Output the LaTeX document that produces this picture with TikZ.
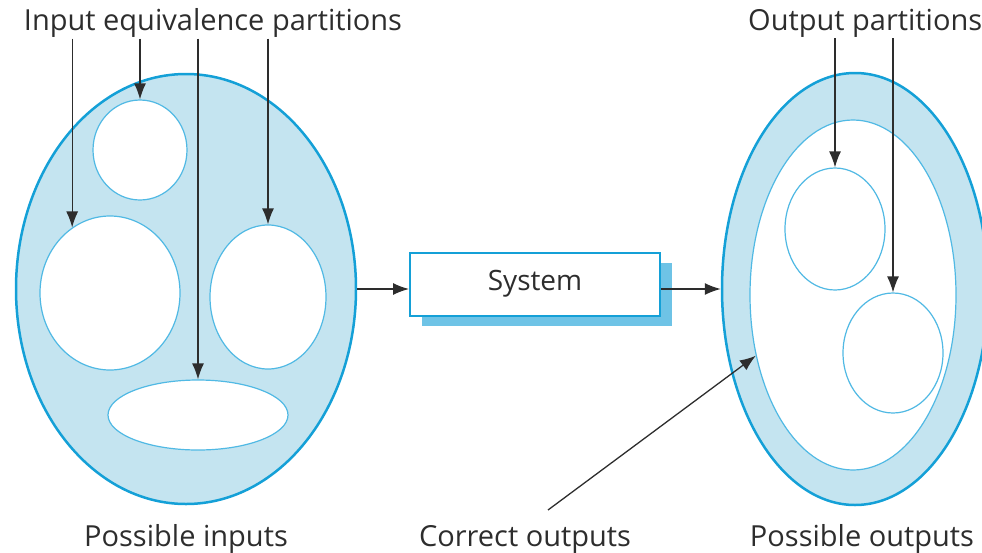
\documentclass[tikz,border=0pt]{standalone}
\usepackage{fontspec}
\setmainfont{Open Sans}
\usetikzlibrary{positioning}
\usetikzlibrary{shapes.geometric}
\usetikzlibrary{arrows.meta}
\usetikzlibrary{shadows}

\definecolor{rimblue}{RGB}{20,160,215}
\definecolor{thinblue}{RGB}{80,185,228}
\definecolor{paleblue}{RGB}{196,228,240}
\definecolor{shadeblue}{RGB}{110,195,230}
\definecolor{inkgray}{RGB}{45,45,45}

\tikzset{
  spacering/.style={ellipse, draw=rimblue, line width=2.5pt, fill=paleblue, inner sep=0},
  part/.style={ellipse, draw=thinblue, line width=1.2pt, fill=white, inner sep=0},
  lbl/.style={text=inkgray, font=\fontsize{29}{33}\selectfont, inner sep=1pt},
  arr/.style={draw=inkgray, line width=1.3pt, -{Latex[length=16pt,width=12pt]}},
  sysbox/.style={draw=rimblue, line width=2pt, fill=white, minimum width=250pt,
    minimum height=63pt, text=inkgray, font=\fontsize{28}{32}\selectfont,
    drop shadow={shadow xshift=12pt, shadow yshift=-10pt, fill=shadeblue, opacity=1}}
}

\begin{document}
\begin{tikzpicture}[x=1pt, y=-1pt]
  \useasboundingbox (0,0) rectangle (982,552);

  % input side
  \node[spacering, minimum width=340pt, minimum height=430pt] (ins) at (186,289) {};
  \node[part, minimum width=94pt, minimum height=100pt] (p1) at (140,150) {};
  \node[part, minimum width=140pt, minimum height=154pt] (p2) at (110,293) {};
  \node[part, minimum width=116pt, minimum height=144pt] (p3) at (268,297) {};
  \node[part, minimum width=180pt, minimum height=70pt] (p4) at (198,415) {};

  \node[lbl] (lin) at (213,23) {Input equivalence partitions};
  \draw[arr] (p2.120 |- lin.south) -- (p2.120);
  \draw[arr] (p1.north |- lin.south) -- (p1.north);
  \draw[arr] (p4.north |- lin.south) -- (p4.north);
  \draw[arr] (p3.north |- lin.south) -- (p3.north);

  % system
  \node[sysbox] (sys) at (535,284) {System};

  % output side
  \node[spacering, minimum width=266pt, minimum height=432pt] (outs) at (855,289) {};
  \node[part, minimum width=206pt, minimum height=350pt] (ok) at (853,295) {};
  \node[part, minimum width=100pt, minimum height=122pt] (q1) at (835,229) {};
  \node[part, minimum width=100pt, minimum height=120pt] (q2) at (893,353) {};

  \node[lbl, anchor=west] (lout) at (747,23) {Output partitions};
  \draw[arr] (q1.north |- lout.south) -- (q1.north);
  \draw[arr] (q2.north |- lout.south) -- (q2.north);

  \draw[arr] (ins.east) -- (ins.east -| sys.west);
  \draw[arr] (sys.east |- outs.west) -- (outs.west);

  % bottom labels
  \node[lbl] (pin) at (186,539) {Possible inputs};
  \node[lbl] (cor) at (525,539) {Correct outputs};
  \node[lbl] (pout) at (862,539) {Possible outputs};
  \coordinate (c0) at (548,510);
  \draw[arr] (c0) -- (ok.212);
\end{tikzpicture}
\end{document}
